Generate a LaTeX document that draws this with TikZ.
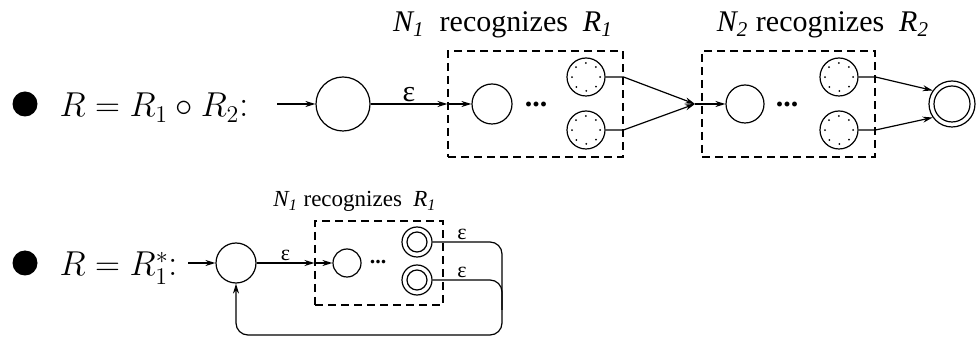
\documentclass[tikz,border=0pt]{standalone}
\usepackage{amsmath}
\usepackage{fontspec}
\newfontfamily\timesfont{Liberation Serif}
\usetikzlibrary{arrows.meta}

\begin{document}
\begin{tikzpicture}[x=0.5pt, y=-0.5pt, line width=0.6pt,
    >={Stealth[length=5pt,width=3pt]},
    bull/.style={circle, fill, inner sep=0pt, minimum size=12.5pt},
    formula/.style={anchor=base west, inner sep=0pt, font=\fontsize{18.8}{20}\selectfont},
    nstate/.style={circle, draw, inner sep=0pt, minimum size=#1},
    dotacc/.style={nstate=19pt, path picture={\draw[line width=1pt, line cap=round, dash pattern=on 0pt off 5.5pt]
        (path picture bounding box.center) circle (7pt);}},
    dblacc/.style 2 args={nstate=#1, path picture={\draw (path picture bounding box.center) circle (#2);}},
    nbox/.style={draw, line width=0.55pt, dash pattern=on 4pt off 2.5pt, inner sep=0pt},
    lab/.style={anchor=base, font=\timesfont\fontsize{#1}{#1}\selectfont},
    eps/.style={font=\timesfont\fontsize{#1}{#1}\selectfont, inner sep=1pt}]

    \useasboundingbox (0,0) rectangle (979,341);

    % Concatenation: draw nodes
    \node[bull] (b1) at (25,104) {};
    \node[formula] (f1) at (59,117) {$R = R_1 \circ R_2$:};
    \coordinate (s1) at (277,104);
    \node[nstate=27pt] (q0) at (343,104) {};
    \node[nbox, minimum width=87.5pt, minimum height=53pt] (n1) at (535.5,104) {};
    \node[nstate=20pt] (p1) at (492,104) {};
    \node (d1) at (536,104) {\timesfont\fontsize{15}{15}\selectfont\textbf{...}};
    \node[dotacc] (f11) at (586,77) {};
    \node[dotacc] (f12) at (586,130) {};
    \coordinate (j) at (695,104);
    \node[nbox, minimum width=86.5pt, minimum height=53pt] (n2) at (788.5,104) {};
    \node[nstate=19pt] (p2) at (745,104) {};
    \node (d2) at (787,104) {\timesfont\fontsize{15}{15}\selectfont\textbf{...}};
    \node[dotacc] (f21) at (839,77) {};
    \node[dotacc] (f22) at (839,130) {};
    \node[dblacc={23pt}{9pt}] (qf) at (952,104) {};

    % Concatenation: draw connections
    \draw[->] (s1) -- (q0);
    \draw[->] (q0) -- node[above, eps=15] (e1) {ε} (n1.west);
    \draw[->] (n1.west) -- (p1);
    \draw[->] (f11) -- (f11 -| n1.east) -- (j);
    \draw[->] (f12) -- (f12 -| n1.east) -- (j);
    \draw[->] (j) -- (p2);
    \draw[->] (f21) -- (f21 -| n2.east) -- (qf.145);
    \draw[->] (f22) -- (f22 -| n2.east) -- (qf.215);

    % Concatenation: labels
    \node[lab=15] (l1) at (503,32) {\textit{N\textsubscript{1}}\ \ recognizes\ \ \textit{R\textsubscript{1}}};
    \node[lab=15] (l2) at (823,32) {\textit{N\textsubscript{2}}\ recognizes\ \ \textit{R\textsubscript{2}}};

    % Star: draw nodes
    \node[bull] (b2) at (25,263) {};
    \node[formula] (f2) at (59,276) {$R = R_1^*$:};
    \coordinate (s2) at (188,263);
    \node[nstate=20pt] (q1) at (236,263) {};
    \node[nbox, minimum width=64pt, minimum height=42pt] (n3) at (379,263) {};
    \node[nstate=14pt] (p3) at (347,263) {};
    \node (d3) at (378,262) {\timesfont\fontsize{11}{11}\selectfont\textbf{...}};
    \node[dblacc={15pt}{5pt}] (g1) at (417,242) {};
    \node[dblacc={15pt}{5pt}] (g2) at (417,280) {};
    \coordinate (c1) at (502,335);

    % Star: draw connections
    \draw[->] (s2) -- (q1);
    \draw[->] (q1) -- node[above, eps=11] (e2) {ε} (n3.west);
    \draw[->] (n3.west) -- (p3);
    \draw[->, rounded corners=6pt] (g1) -- (g1 -| c1) -- (c1) -- (c1 -| q1) -- (q1);
    \draw[rounded corners=6pt] (g2) -- (g2 -| c1) -- ++(0,30);

    % Star: labels
    \node[eps=11] (e3) at (462,234) {ε};
    \node[eps=11] (e4) at (462,272) {ε};
    \node[lab=11.5] (l3) at (355,207) {\textit{N\textsubscript{1}}\ recognizes\ \ \textit{R\textsubscript{1}}};
\end{tikzpicture}
\end{document}
